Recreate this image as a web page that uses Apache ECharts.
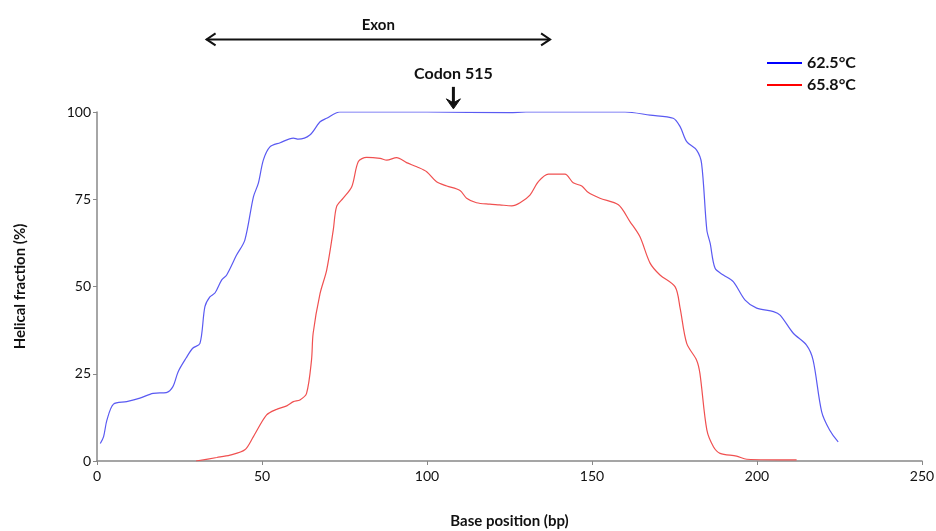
<!DOCTYPE html>
<html>
<head>
<meta charset="utf-8">
<script src="https://cdn.jsdelivr.net/npm/echarts@6/dist/echarts.min.js"></script>
<style>
  html, body { margin: 0; padding: 0; background: #fff; }
  #main { width: 936px; height: 531px; }
</style>
</head>
<body>
<div id="main"></div>
<script>
// melting profile (base position, helical fraction %)
var blue625 = [[1,5],[2,7],[3,11.7],[5,16.3],[9,17],[13,18],[17,19.4],[21,19.6],[23,21.3],[24.6,25.6],
  [27,29.5],[29,32.3],[31.2,33.7],[32.7,44.2],[34.2,47],[35.8,48.2],[37.8,51.9],[39.3,53.3],[42.3,59],
  [44.8,63.3],[47.4,75.7],[48.9,79.6],[50.4,86.2],[52.4,90],[55.5,91.2],[59.5,92.5],[61,92.2],[64.5,93.4],
  [67.6,97.2],[69.6,98.2],[73.6,100],[100,100],[125,99.8],[130,100],[160,100],[167.6,99.1],[174.6,98.2],
  [176.7,95.8],[178.7,91.5],[181.7,89.1],[183.2,85.3],[184.8,66.2],[185.8,62.4],[187.3,55.2],[189.8,53.3],
  [192.8,51.4],[196.4,46.1],[199.9,43.8],[205,42.8],[207,41.8],[211,36.6],[215,33.2],[217,28.9],
  [219.6,14.1],[222,8.9],[224.6,5.5]];
var red658 = [[30,0],[36.3,1],[40.3,1.7],[44.8,3.2],[47.4,7],[51.4,13.2],[54.4,14.8],[57.5,15.8],[59.5,17],
  [61.5,17.5],[63.5,19.4],[65,28.9],[65.5,36.6],[67.6,48],[69.6,54.7],[71.6,66.2],[72.6,72.9],[74.6,75.3],
  [77.2,78.6],[79.2,85.8],[81.7,87],[85.8,86.7],[87.8,86.2],[90.8,86.9],[93.8,85.5],[96.9,84.3],[99.9,82.9],
  [102.9,80],[106,78.8],[110,77.5],[112,75.3],[115,74],[119,73.6],[122,73.4],[125.7,73.1],[128.2,74],
  [131.2,76.2],[133.7,80],[136.8,82.2],[141.8,82.2],[144.3,79.7],[146.9,78.8],[148.9,76.9],[152.4,75.3],
  [158,73.4],[161.5,68.6],[164.5,64.3],[167.6,56.7],[170.6,53.3],[175.2,49.9],[176.7,43.8],[178.7,33.7],
  [181.7,28.9],[182.7,25.1],[184.8,8.9],[186.8,4.1],[188.8,2.2],[193.8,1.4],[196.9,0.5],[212,0.3]];
var seriesNames = ['62.5°C', '65.8°C'];
var exonRange = [33.2, 137.3];   // bp
var codonPos = 108;              // bp

var font = 'Lato, "Open Sans", sans-serif';
var chart = echarts.init(document.getElementById('main'));

var option = {
  animation: false,
  grid: { left: 97, right: 14, top: 112, bottom: 70, containLabel: false, outerBoundsMode: 'none' },
  legend: {
    orient: 'vertical',
    left: 762, top: 50,
    icon: 'rect',
    itemWidth: 35, itemHeight: 2, itemGap: 6,
    textStyle: { fontFamily: font, fontSize: 16, fontWeight: 'bold', color: '#111' },
    data: [
      { name: seriesNames[0], itemStyle: { color: '#0000ff' } },
      { name: seriesNames[1], itemStyle: { color: '#ff0000' } }
    ]
  },
  xAxis: {
    type: 'value', min: 0, max: 250, interval: 50,
    name: 'Base position (bp)', nameLocation: 'middle', nameGap: 53,
    nameTextStyle: { fontFamily: font, fontSize: 15, fontWeight: 'bold', color: '#111' },
    axisLine: { lineStyle: { color: '#888', width: 1.5 } },
    axisTick: { length: 4, lineStyle: { color: '#888' } },
    axisLabel: { fontFamily: font, fontSize: 14, color: '#111', margin: 8 },
    splitLine: { show: false }
  },
  yAxis: {
    type: 'value', min: 0, max: 100, interval: 25,
    name: 'Helical fraction (%)', nameLocation: 'middle', nameGap: 69,
    nameTextStyle: { fontFamily: font, fontSize: 15, fontWeight: 'bold', color: '#111' },
    axisLine: { show: true, lineStyle: { color: '#888', width: 1.5 } },
    axisTick: { show: true, length: 4, lineStyle: { color: '#888' } },
    axisLabel: { fontFamily: font, fontSize: 14, color: '#111', margin: 6 },
    splitLine: { show: false }
  },
  series: [
    {
      name: seriesNames[0], type: 'line', data: blue625, smooth: 0.3,
      showSymbol: false, color: '#0000ff',
      lineStyle: { color: '#5a5af2', width: 1.2 }
    },
    {
      name: seriesNames[1], type: 'line', data: red658, smooth: 0.3,
      showSymbol: false, color: '#ff0000',
      lineStyle: { color: '#f05050', width: 1.2 }
    }
  ]
};
chart.setOption(option);

// annotations above the plot, placed through the axes
function px(x, y) { return chart.convertToPixel({ gridIndex: 0 }, [x, y]); }
var a = px(exonRange[0], 120.8), b = px(exonRange[1], 120.8);
var exonMid = px((exonRange[0] + exonRange[1]) / 2, 124.9);
var cTop = px(codonPos, 107.2), cTip = px(codonPos, 100.9), cText = px(codonPos, 110.9);
var blk = { stroke: '#111', lineWidth: 2, fill: null };
chart.setOption({
  graphic: [
    { type: 'line', shape: { x1: a[0], y1: a[1], x2: b[0], y2: b[1] }, style: blk },
    { type: 'polyline', shape: { points: [[a[0] + 9, a[1] - 6], [a[0], a[1]], [a[0] + 9, a[1] + 6]] }, style: blk },
    { type: 'polyline', shape: { points: [[b[0] - 9, b[1] - 6], [b[0], b[1]], [b[0] - 9, b[1] + 6]] }, style: blk },
    { type: 'text', x: exonMid[0], y: exonMid[1],
      style: { text: 'Exon', font: 'bold 15px ' + font, fill: '#111', align: 'center', verticalAlign: 'middle' } },
    { type: 'line', shape: { x1: cTop[0], y1: cTop[1], x2: cTip[0], y2: cTip[1] - 5 },
      style: { stroke: '#111', lineWidth: 3 } },
    { type: 'polygon', shape: { points: [[cTip[0] - 7, cTip[1] - 10], [cTip[0], cTip[1]], [cTip[0] + 7, cTip[1] - 10], [cTip[0], cTip[1] - 6]] },
      style: { fill: '#111', stroke: '#111', lineWidth: 1 } },
    { type: 'text', x: cText[0], y: cText[1],
      style: { text: 'Codon 515', font: 'bold 16px ' + font, fill: '#111', align: 'center', verticalAlign: 'middle' } }
  ]
});
</script>
</body>
</html>
